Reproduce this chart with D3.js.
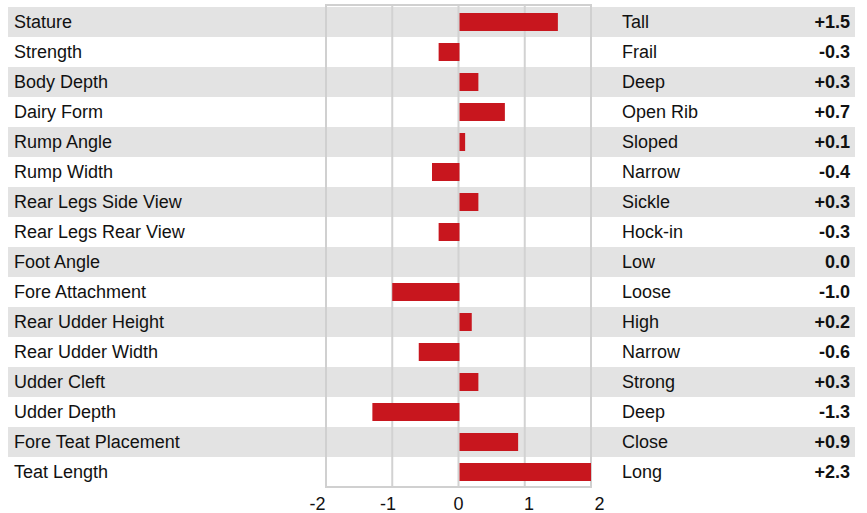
<!DOCTYPE html>
<html><head><meta charset="utf-8">
<script src="https://cdn.jsdelivr.net/npm/d3@7"></script>
<style>body{margin:0;background:#fff}svg{display:block}text{font-family:"Liberation Sans",Arial,Helvetica,sans-serif}</style>
</head><body><svg id="c" width="867" height="513"></svg>
<script>
const traits = ["Stature","Strength","Body Depth","Dairy Form","Rump Angle","Rump Width","Rear Legs Side View","Rear Legs Rear View","Foot Angle","Fore Attachment","Rear Udder Height","Rear Udder Width","Udder Cleft","Udder Depth","Fore Teat Placement","Teat Length"];
const descriptors = ["Tall","Frail","Deep","Open Rib","Sloped","Narrow","Sickle","Hock-in","Low","Loose","High","Narrow","Strong","Deep","Close","Long"];
const values = [1.5,-0.3,0.3,0.7,0.1,-0.4,0.3,-0.3,0.0,-1.0,0.2,-0.6,0.3,-1.3,0.9,2.3];
const tickValues = [-2,-1,0,1,2];

const svg = d3.select("#c");
const x = d3.scaleLinear().domain([-2,2]).range([326,591]);
const xLabel = d3.scaleLinear().domain([-2,2]).range([317,599]);
const y = d3.scaleBand().domain(traits).range([7,487]).paddingInner(0);
const fmt = v => (v>0?"+":"") + v.toFixed(1);
const FS = 18;

// stripes
svg.append("g").selectAll("rect").data(traits).join("rect")
  .attr("x",8).attr("width",847)
  .attr("y",d=>y(d)).attr("height",y.bandwidth())
  .attr("fill",(d,i)=>i%2===0?"#e3e3e3":"#ffffff");

// grid
svg.append("g").selectAll("line").data([-1,0,1]).join("line")
  .attr("x1",d=>x(d)).attr("x2",d=>x(d)).attr("y1",5).attr("y2",487)
  .attr("stroke","#d2d2d2").attr("stroke-width",2);

// frame
svg.append("rect").attr("x",x(-2)).attr("y",5).attr("width",x(2)-x(-2)).attr("height",482)
  .attr("fill","none").attr("stroke","#d0d0d0").attr("stroke-width",2);

// bars
const clip = v => Math.max(-2, Math.min(2, v));
svg.append("g").selectAll("rect").data(values.map((v,i)=>({v,t:traits[i]}))).join("rect")
  .attr("x",d=>d.v>=0? x(0)+1 : x(clip(d.v)))
  .attr("width",d=>d.v===0?0:(d.v>0? x(clip(d.v))-x(0)-1 : x(0)+1-x(clip(d.v))))
  .attr("y",d=>y(d.t)+y.bandwidth()/2-9).attr("height",18)
  .attr("fill","#c8161e");

// labels
const txt = svg.append("g").attr("font-size",FS).attr("fill","#111");
txt.selectAll("text.l").data(traits).join("text").attr("class","l")
  .attr("x",14).attr("y",d=>y(d)+y.bandwidth()/2).attr("dy","0.35em").text(d=>d);
txt.selectAll("text.d").data(descriptors).join("text").attr("class","d")
  .attr("x",622).attr("y",(d,i)=>y(traits[i])+y.bandwidth()/2).attr("dy","0.35em").text(d=>d);
txt.selectAll("text.v").data(values).join("text").attr("class","v")
  .attr("x",850).attr("text-anchor","end").attr("font-weight","bold")
  .attr("y",(d,i)=>y(traits[i])+y.bandwidth()/2).attr("dy","0.35em").text(d=>fmt(d));

// axis labels
const ax = svg.append("g").attr("transform","translate(0,490)")
  .call(d3.axisBottom(xLabel).tickValues(tickValues).tickSize(0).tickPadding(7).tickFormat(d=>String(d)));
ax.select(".domain").remove();
ax.selectAll("text").attr("font-size",FS).attr("fill","#111").attr("font-family","Liberation Sans, Arial, sans-serif");
</script></body></html>
